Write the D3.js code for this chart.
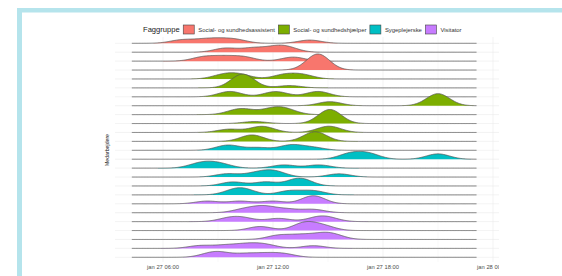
<!DOCTYPE html>
<html>
<head>
<meta charset="utf-8">
<script src="https://cdn.jsdelivr.net/npm/d3@7"></script>
<style>
  html, body { margin: 0; padding: 0; background: #ffffff; }
  svg { display: block; font-family: "Liberation Sans", Arial, Helvetica, sans-serif; }
</style>
</head>
<body>
<svg id="chart" width="562" height="276"></svg>
<script>
// ---------------- data ----------------
const groupNames = ["Social- og sundhedsassistent", "Social- og sundhedshjælper", "Sygeplejerske", "Visitator"];
const groupColors = ["#F8766D", "#7CAE00", "#00BFC4", "#C77CFF"];

// employees, top row first
const employees = ["M01","M02","M03","M04","M05","M06","M07","M08","M09","M10","M11","M12","M13",
                   "M14","M15","M16","M17","M18","M19","M20","M21","M22","M23","M24","M25"];
const employeeGroup = [0,0,0,0, 1,1,1,1,1,1,1,1, 2,2,2,2,2,2, 3,3,3,3,3,3,3];

// registered times of activity (hours of jan 27), one list per employee
const obs01 = [7.0, 8.2, 9.1, 10.0, 14.0];
const obs02 = [9.4, 10.9, 12.1, 12.8];
const obs03 = [8.2, 9.3, 10.4, 13.1];
const obs04 = [14.45];
const obs05 = [9.3, 10.2, 12.6, 13.6];
const obs06 = [10.35, 10.35, 10.35, 10.35, 10.35, 10.35, 12.9];
const obs07 = [9.6, 9.7, 12.0, 12.3, 14.4, 14.5];
const obs08 = [15.1, 21.0, 21.0, 21.0];
const obs09 = [10.0, 10.5, 11.8, 12.3, 12.8];
const obs10 = [11.0, 15.1, 15.1, 15.1, 15.1, 15.1, 15.1, 15.1];
const obs11 = [9.6, 11.2, 11.6, 14.9, 15.2];
const obs12 = [10.85, 10.85, 14.3, 14.3, 14.3];
const obs13 = [9.4, 9.7, 11.2, 12.9, 13.1, 14.2];
const obs14 = [16.2, 17.2, 21.0];
const obs15 = [7.9, 8.5, 9.2, 12.6, 14.5];
const obs16 = [9.5, 11.0, 11.8, 12.2, 15.6];
const obs17 = [9.8, 11.6, 13.3, 13.6];
const obs18 = [9.9, 10.5, 12.9, 14.2];
const obs19 = [8.4, 10.2, 12.0, 14.2, 14.2, 14.2];
const obs20 = [10.4, 11.3, 11.7, 12.8, 14.2];
const obs21 = [9.6, 10.4, 12.3, 14.4, 15.0];
const obs22 = [11.3, 13.6, 13.9, 14.8];
const obs23 = [12.3, 13.5, 14.6, 15.3];
const obs24 = [8.0, 9.3, 10.3, 11.0, 11.7, 14.2];
const obs25 = [8.6, 9.2, 10.5, 11.6, 12.6];
const observations = [obs01,obs02,obs03,obs04,obs05,obs06,obs07,obs08,obs09,obs10,obs11,obs12,obs13,
                      obs14,obs15,obs16,obs17,obs18,obs19,obs20,obs21,obs22,obs23,obs24,obs25];

const bandwidth = 0.63;            // hours (joint bandwidth)
const densityRange = [4.3, 23.13]; // hours, range the densities are evaluated over
const ridgeScale = 1.8;
const tickHours = [6, 12, 18, 24];
const minorHours = [3, 9, 15, 21];
const legendTitle = "Faggruppe";
const yTitle = "Medarbejdere";

// ---------------- drawing ----------------
const svg = d3.select("#chart");
const W = 562, H = 276;
const day = new Date(2024, 0, 27, 0, 0, 0);
const at = h => new Date(day.getTime() + h * 3600 * 1000);

const locale = d3.timeFormatLocale({
  dateTime: "%A %e %B %Y %X", date: "%d.%m.%Y", time: "%H:%M:%S",
  periods: ["AM", "PM"],
  days: ["søndag","mandag","tirsdag","onsdag","torsdag","fredag","lørdag"],
  shortDays: ["søn","man","tir","ons","tor","fre","lør"],
  months: ["januar","februar","marts","april","maj","juni","juli","august","september","oktober","november","december"],
  shortMonths: ["jan","feb","mar","apr","maj","jun","jul","aug","sep","okt","nov","dec"]
});
const fmt = locale.format("%b %d %H:%M");

// frame
svg.append("rect").attr("x", 0).attr("y", 0).attr("width", W).attr("height", H).attr("fill", "#fff");
svg.append("rect").attr("x", 17).attr("y", 8).attr("width", W - 17).attr("height", 4.5).attr("fill", "#b5e4ec");
svg.append("rect").attr("x", 17).attr("y", 8).attr("width", 5).attr("height", H - 8).attr("fill", "#b5e4ec");

const panel = { left: 115, right: 499, top: 37, bottom: 262 };

const x = d3.scaleTime().domain([at(6), at(18)]).range([163, 383]);
const y = d3.scalePoint().domain(employees).range([43.3, 257.3]);

svg.append("clipPath").attr("id", "clip")
  .append("rect").attr("x", 0).attr("y", 0).attr("width", panel.right).attr("height", H);

const g = svg.append("g").attr("clip-path", "url(#clip)");

// gridlines
g.selectAll("line.minor").data(minorHours).join("line")
  .attr("x1", d => x(at(d))).attr("x2", d => x(at(d)))
  .attr("y1", panel.top).attr("y2", panel.bottom)
  .attr("stroke", "#f2f2f2").attr("stroke-width", 0.5)
  .attr("display", d => x(at(d)) < panel.left ? "none" : null);
g.selectAll("line.major").data(tickHours).join("line")
  .attr("x1", d => x(at(d))).attr("x2", d => x(at(d)))
  .attr("y1", panel.top).attr("y2", panel.bottom)
  .attr("stroke", "#ebebeb").attr("stroke-width", 0.6);
g.selectAll("line.hgrid").data(employees).join("line")
  .attr("x1", panel.left).attr("x2", panel.right)
  .attr("y1", d => y(d)).attr("y2", d => y(d))
  .attr("stroke", "#ebebeb").attr("stroke-width", 0.6);

// densities
const grid = d3.range(densityRange[0], densityRange[1] + 1e-9, 0.04);
const gauss = u => Math.exp(-0.5 * u * u) / Math.sqrt(2 * Math.PI);
const dens = observations.map(o => grid.map(t => [t, d3.sum(o, v => gauss((t - v) / bandwidth)) / (o.length * bandwidth)]));
const maxD = d3.max(dens, r => d3.max(r, p => p[1]));
const hScale = d3.scaleLinear().domain([0, maxD]).range([0, ridgeScale * y.step()]);

const ridges = g.selectAll("g.ridge").data(employees).join("g");
ridges.each(function (emp, i) {
  const base = y(emp);
  const area = d3.area().x(p => x(at(p[0]))).y0(base).y1(p => base - hScale(p[1])).curve(d3.curveLinear);
  const line = d3.line().x(p => x(at(p[0]))).y(p => base - hScale(p[1])).curve(d3.curveLinear);
  d3.select(this).append("path").attr("d", area(dens[i])).attr("fill", groupColors[employeeGroup[i]]);
  d3.select(this).append("path").attr("d", line(dens[i])).attr("fill", "none")
    .attr("stroke", "#555").attr("stroke-width", 0.75);
});

// x axis labels
g.selectAll("text.xt").data(tickHours).join("text")
  .attr("x", d => x(at(d))).attr("y", 269)
  .attr("text-anchor", "middle").attr("font-size", 5.8).attr("fill", "#4d4d4d")
  .text(d => fmt(at(d)));

// y title
svg.append("text")
  .attr("transform", "translate(109,150) rotate(-90)")
  .attr("text-anchor", "middle").attr("font-size", 5.2).attr("fill", "#222")
  .text(yTitle);

// legend
const leg = svg.append("g");
const lt = leg.append("text").attr("x", 143).attr("y", 32).attr("font-size", 7.6).attr("fill", "#222").text(legendTitle);
let cx = 143 + lt.node().getComputedTextLength() + 3.5;
groupNames.forEach((name, i) => {
  leg.append("rect").attr("x", cx).attr("y", 25).attr("width", 11).attr("height", 9)
    .attr("fill", groupColors[i]).attr("stroke", "#444").attr("stroke-width", 0.6);
  const t = leg.append("text").attr("x", cx + 15).attr("y", 31.5).attr("font-size", 5.9).attr("fill", "#333").text(name);
  cx += 15 + t.node().getComputedTextLength() + 3.5;
});
</script>
</body>
</html>
